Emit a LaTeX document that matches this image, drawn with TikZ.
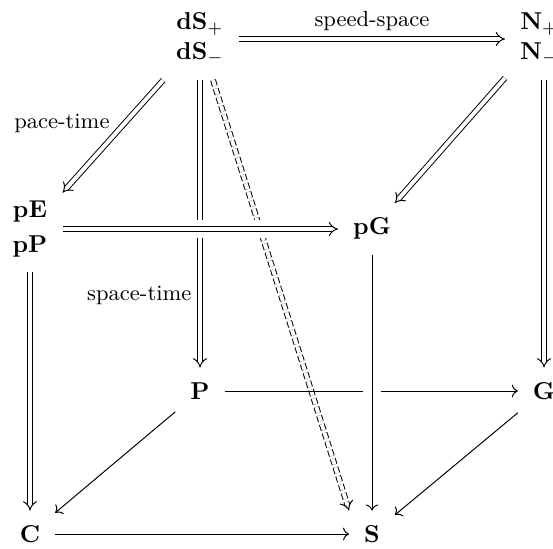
\documentclass[tikz,border=0pt]{standalone}
\usepackage{amsmath,amssymb}
\usepackage{tikz}
\usetikzlibrary{arrows.meta,calc,positioning}

\tikzset{
  obj/.style={inner sep=6pt, align=center},
  dbl/.style={double, double distance=1.6pt, -{Implies}},
  sgl/.style={-{To}},
  lbl/.style={font=\small},
  gapline/.style={draw=white, line width=7pt},
}

\begin{document}
\begin{tikzpicture}[x=0.41pt,y=-0.41pt]
  \useasboundingbox (0,0) rectangle (553,548);
  % Objects
  \node[obj] (dS) at (200,39) {$\mathbf{dS}_+$\\$\mathbf{dS}_-$};
  \node[obj,anchor=west] (N) at (505,39) {$\mathbf{N}_+$\\$\mathbf{N}_-$};
  \node[obj] (pE) at (30,229) {$\mathbf{pE}$\\[2pt]$\mathbf{pP}$};
  \node[obj] (pG) at (372,229) {$\mathbf{pG}$};
  \node[obj] (P) at (200,391) {$\mathbf{P}$};
  \node[obj] (G) at (544,391) {$\mathbf{G}$};
  \node[obj] (C) at (30,534) {$\mathbf{C}$};
  \node[obj] (S) at (372,534) {$\mathbf{S}$};
  % Double arrows from the top row
  \draw[dbl] (dS) -- node[lbl,above] {speed-space} (N);
  \draw[dbl] (dS) -- node[lbl,above left,pos=0.52,xshift=3pt,yshift=-1pt] {pace-time} (pE);
  \draw[dbl] (dS) -- node[lbl,left,pos=0.75] {space-time} (P);
  \draw[dbl,dash pattern=on 2.5pt off 1.2pt] (dS) -- (S.north west);
  \draw[dbl] (N) -- (pG);
  \draw[dbl] (N.south -| G) -- (G);
  % Middle row, crossing over
  \draw[gapline] (pE) -- (pG);
  \draw[dbl] (pE) -- (pG);
  \draw[dbl] (pE) -- (C);
  \draw[sgl] (P) -- (G);
  \draw[gapline] (pG) -- (S);
  \draw[sgl] (pG) -- (S);
  % Bottom
  \draw[sgl] (P) -- (C);
  \draw[sgl] (G) -- (S);
  \draw[sgl] (C) -- (S);
\end{tikzpicture}
\end{document}
